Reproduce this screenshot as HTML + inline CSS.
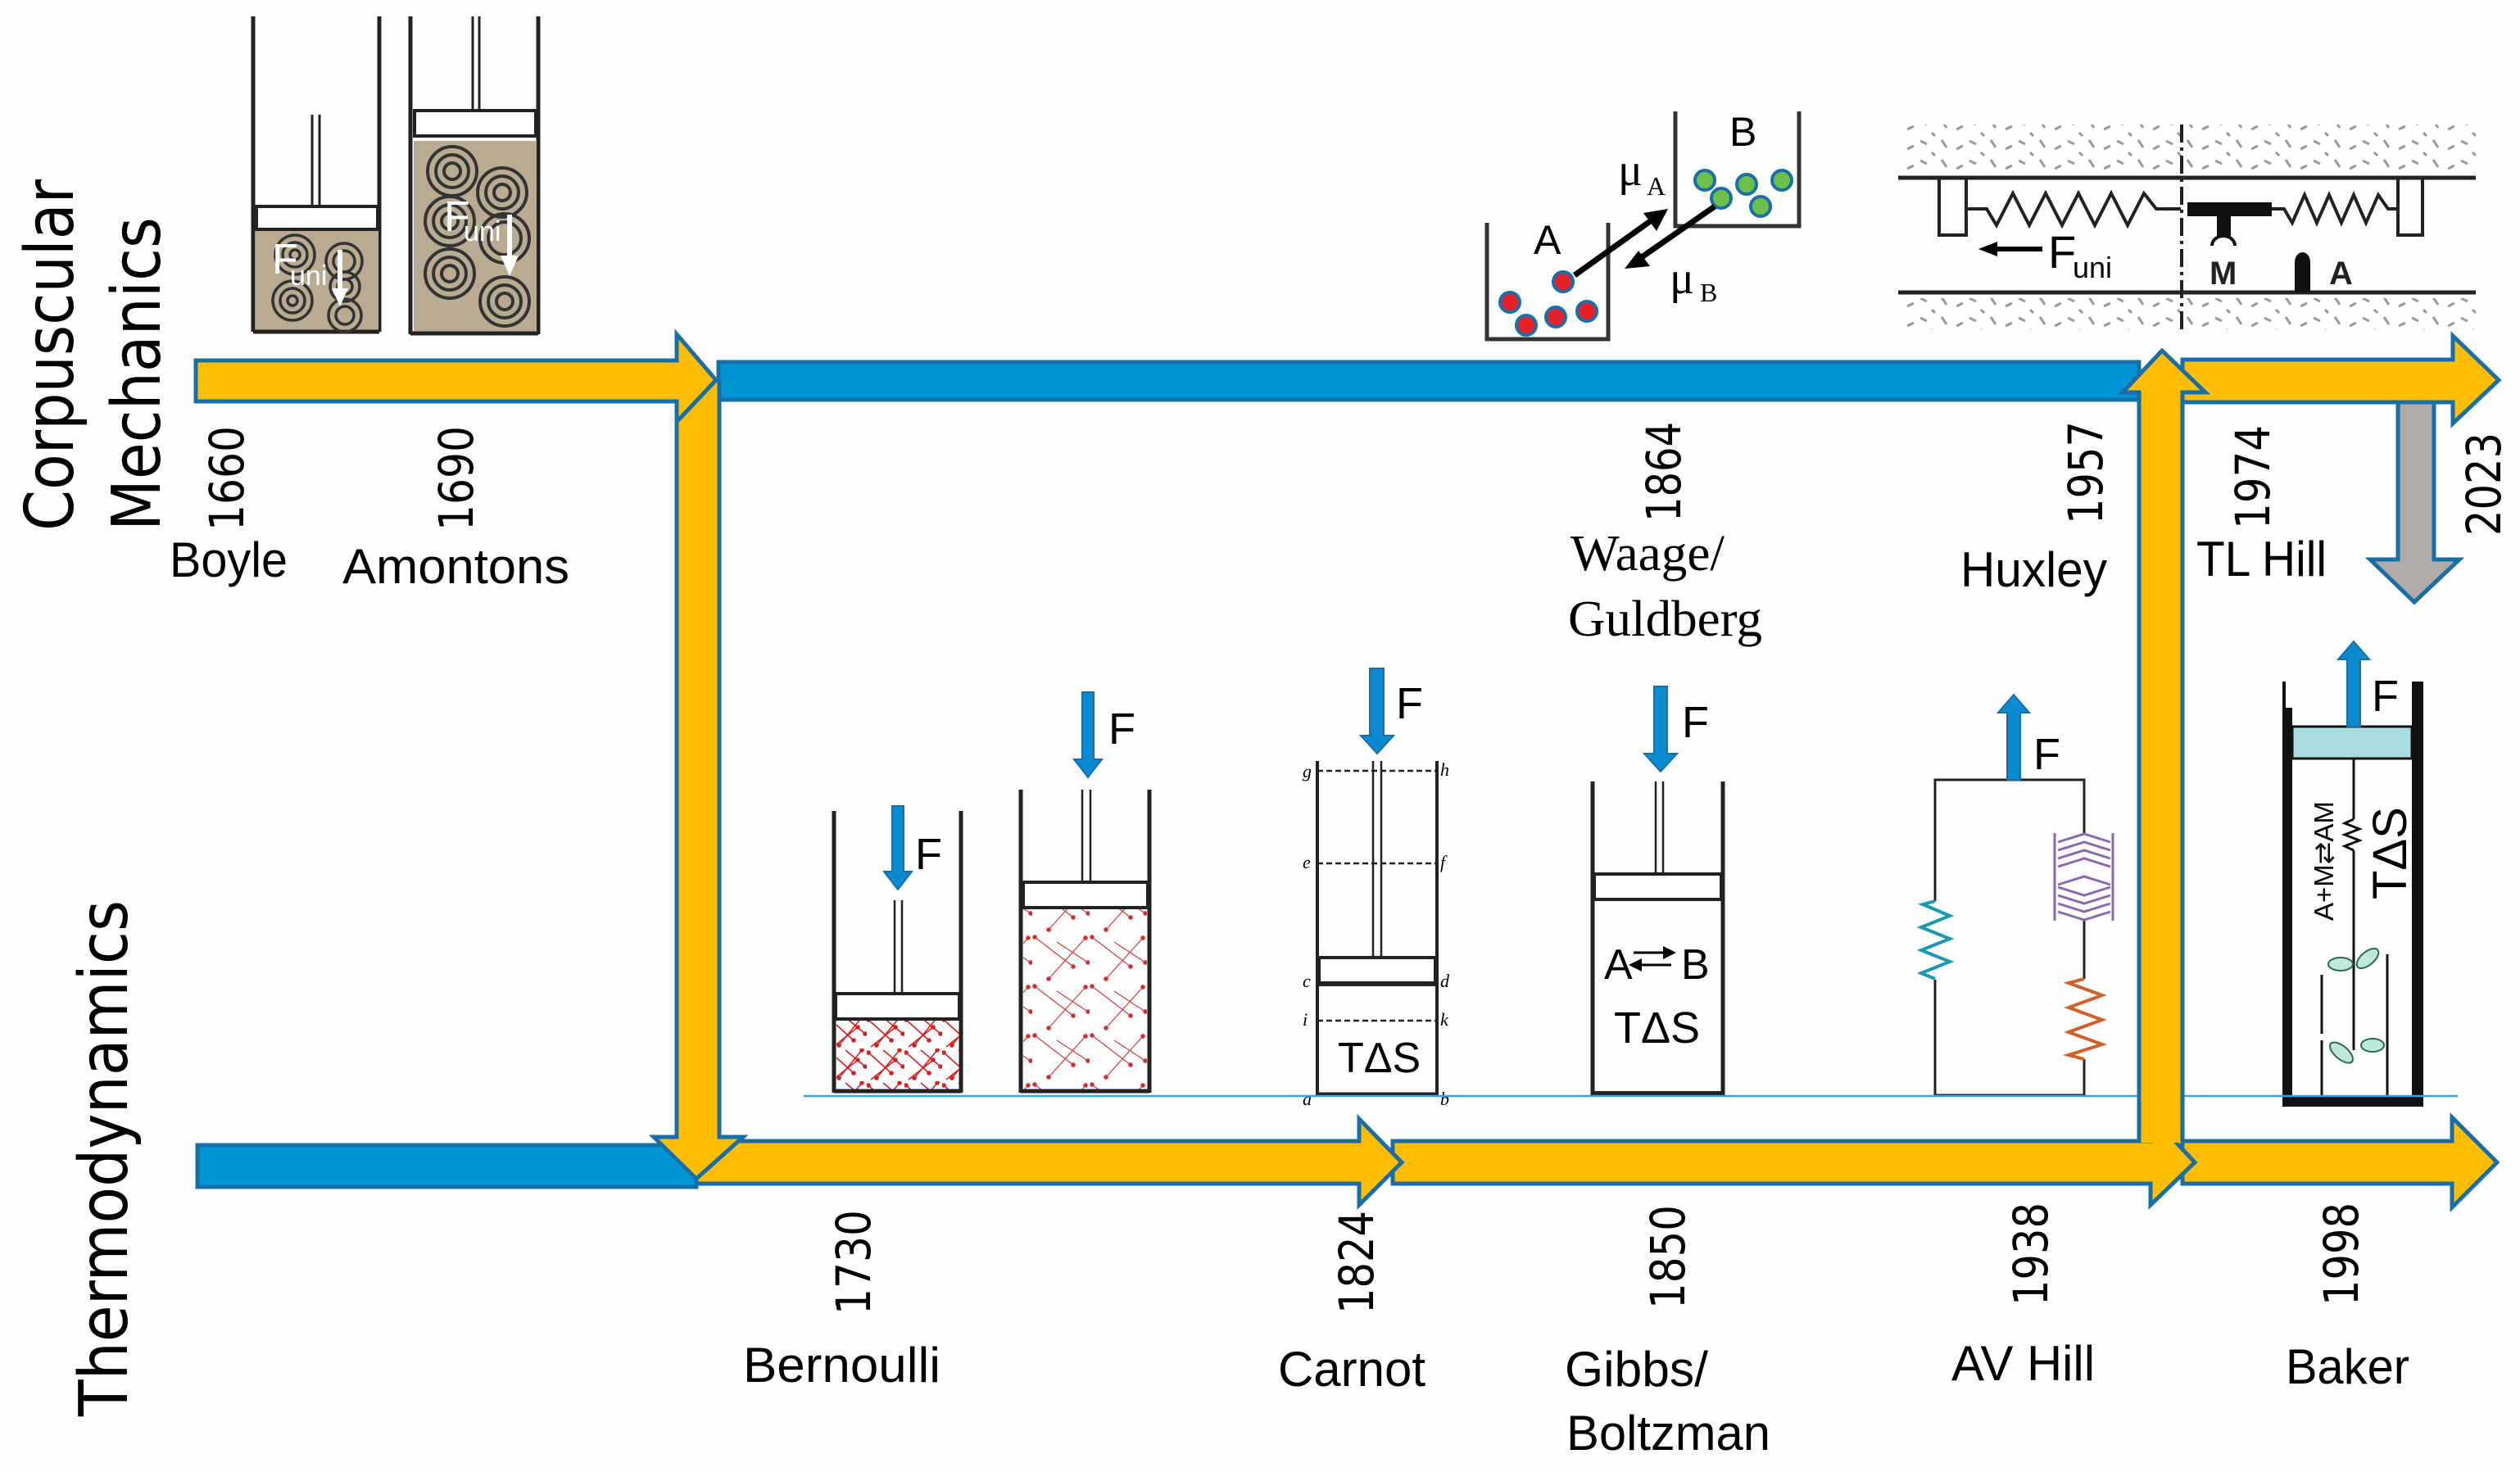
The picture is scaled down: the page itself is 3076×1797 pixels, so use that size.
<!DOCTYPE html>
<html><head><meta charset="utf-8"><style>
html,body{margin:0;padding:0;background:#fff;}
svg{display:block;}
.yr{font-family:"DejaVu Sans",sans-serif;font-size:58px;fill:#000;}
.nm{font-family:"Liberation Sans",sans-serif;font-size:60px;fill:#000;}
.ax{font-family:"DejaVu Sans",sans-serif;font-size:82px;fill:#000;}
.sf{font-family:"Liberation Serif",serif;fill:#000;}
.it{font-family:"Liberation Serif",serif;font-style:italic;font-size:22px;fill:#000;}
</style></head><body>
<svg width="3076" height="1797" viewBox="0 0 3076 1797" xmlns="http://www.w3.org/2000/svg">
<defs>
<pattern id="red" width="46" height="40" patternUnits="userSpaceOnUse">
<g stroke="#d42020" stroke-width="1.6" fill="#d42020">
<line x1="2" y1="5" x2="30" y2="30"/><line x1="40" y1="2" x2="12" y2="36"/><line x1="20" y1="2" x2="44" y2="22"/><line x1="5" y1="38" x2="35" y2="14"/>
<circle cx="2" cy="5" r="2"/><circle cx="30" cy="30" r="2"/><circle cx="40" cy="2" r="2"/><circle cx="12" cy="36" r="2"/><circle cx="44" cy="22" r="2"/><circle cx="35" cy="14" r="2"/>
</g></pattern>
<pattern id="red2" width="70" height="60" patternUnits="userSpaceOnUse">
<g stroke="#d44040" stroke-width="1.3" fill="#d42020">
<line x1="3" y1="4" x2="50" y2="40"/><line x1="65" y1="5" x2="20" y2="55"/><line x1="30" y1="10" x2="68" y2="35"/>
<circle cx="3" cy="4" r="2.2"/><circle cx="50" cy="40" r="2.2"/><circle cx="65" cy="5" r="2.2"/><circle cx="20" cy="55" r="2.2"/><circle cx="68" cy="35" r="2.2"/>
</g></pattern>
<pattern id="stip" width="60" height="24" patternUnits="userSpaceOnUse">
<g stroke="#9a9a9a" stroke-width="3"><line x1="4" y1="4" x2="12" y2="8"/><line x1="30" y1="3" x2="36" y2="12"/><line x1="48" y1="14" x2="56" y2="10"/><line x1="18" y1="18" x2="22" y2="22"/></g></pattern>
</defs>
<rect width="3076" height="1797" fill="#fefefe"/>

<!-- Boyle cylinder -->
<g stroke="#222" fill="none">
<line x1="309" y1="20" x2="309" y2="405" stroke-width="5"/><line x1="463" y1="20" x2="463" y2="405" stroke-width="5"/>
<rect x="312" y="280" width="150" height="125" fill="#b8ab92" stroke="none"/>
<line x1="309" y1="405" x2="463" y2="405" stroke-width="5"/>
<rect x="313" y="252" width="148" height="28" fill="#fff" stroke-width="4"/>
<line x1="381" y1="140" x2="381" y2="252" stroke-width="3"/><line x1="390" y1="140" x2="390" y2="252" stroke-width="3"/>
<g stroke="#333" stroke-width="3.5">
<circle cx="360" cy="311" r="24"/><circle cx="360" cy="311" r="15"/><circle cx="360" cy="311" r="6"/>
<circle cx="420" cy="319" r="22"/><circle cx="420" cy="319" r="13"/>
<circle cx="357" cy="367" r="24"/><circle cx="357" cy="367" r="15"/><circle cx="357" cy="367" r="6"/>
<circle cx="421" cy="385" r="20"/><circle cx="421" cy="385" r="11"/>
<circle cx="421" cy="350" r="18"/><circle cx="421" cy="350" r="9"/>
</g>
</g>
<text x="332" y="334" font-family="Liberation Sans" font-size="52" fill="#fff">F</text>
<text x="354" y="348" font-family="Liberation Sans" font-size="34" fill="#fff">uni</text>
<line x1="415" y1="305" x2="415" y2="355" stroke="#fff" stroke-width="6"/><polygon points="405,352 425,352 415,374" fill="#fff"/>

<!-- Amontons cylinder -->
<g stroke="#222" fill="none">
<line x1="501" y1="20" x2="501" y2="408" stroke-width="5"/><line x1="657" y1="20" x2="657" y2="408" stroke-width="5"/>
<rect x="505" y="172" width="150" height="233" fill="#b8ab92" stroke="none"/>
<line x1="501" y1="407" x2="657" y2="407" stroke-width="5"/>
<rect x="506" y="135" width="148" height="31" fill="#fff" stroke-width="4"/>
<line x1="577" y1="20" x2="577" y2="135" stroke-width="3"/><line x1="585" y1="20" x2="585" y2="135" stroke-width="3"/>
<g stroke="#333" stroke-width="4">
<circle cx="552" cy="209" r="30"/><circle cx="552" cy="209" r="20"/><circle cx="552" cy="209" r="10"/>
<circle cx="613" cy="235" r="30"/><circle cx="613" cy="235" r="20"/><circle cx="613" cy="235" r="10"/>
<circle cx="549" cy="270" r="30"/><circle cx="549" cy="270" r="20"/><circle cx="549" cy="270" r="10"/>
<circle cx="616" cy="291" r="30"/><circle cx="616" cy="291" r="20"/>
<circle cx="549" cy="334" r="30"/><circle cx="549" cy="334" r="20"/><circle cx="549" cy="334" r="10"/>
<circle cx="616" cy="368" r="30"/><circle cx="616" cy="368" r="20"/><circle cx="616" cy="368" r="10"/>
</g>
</g>
<text x="542" y="282" font-family="Liberation Sans" font-size="52" fill="#fff">F</text>
<text x="566" y="294" font-family="Liberation Sans" font-size="34" fill="#fff">uni</text>
<line x1="622" y1="262" x2="622" y2="315" stroke="#fff" stroke-width="6"/><polygon points="611,312 633,312 622,337" fill="#fff"/>

<!-- Waage diagram -->
<g stroke="#333" stroke-width="5" fill="none">
<polyline points="1815,272 1815,414 1963,414 1963,272"/>
<polyline points="2045,136 2045,276 2196,276 2196,136"/>
</g>
<text x="1872" y="310" font-family="Liberation Sans" font-size="50" fill="#000">A</text>
<text x="2111" y="178" font-family="Liberation Sans" font-size="50" fill="#000">B</text>
<g stroke="#1a6ea8" stroke-width="4" fill="#e8202a">
<ellipse cx="1908" cy="344" rx="12" ry="12"/><ellipse cx="1843" cy="369" rx="12" ry="12"/><ellipse cx="1863" cy="397" rx="12" ry="12"/><ellipse cx="1899" cy="387" rx="12" ry="12"/><ellipse cx="1937" cy="380" rx="12" ry="12"/>
</g>
<g stroke="#1a6ea8" stroke-width="4" fill="#6cc04a">
<ellipse cx="2081" cy="220" rx="12" ry="12"/><ellipse cx="2101" cy="242" rx="12" ry="12"/><ellipse cx="2132" cy="225" rx="12" ry="12"/><ellipse cx="2149" cy="252" rx="12" ry="12"/><ellipse cx="2175" cy="220" rx="12" ry="12"/>
</g>
<line x1="1922" y1="336" x2="2020" y2="266" stroke="#000" stroke-width="7"/><polygon points="2036,255 2006,260 2022,282" fill="#000"/>
<line x1="2093" y1="252" x2="1998" y2="318" stroke="#000" stroke-width="7"/><polygon points="1983,328 2000,306 2014,325" fill="#000"/>
<text x="1975" y="226" class="sf" font-size="56">μ</text><text x="2010" y="238" class="sf" font-size="32">A</text>
<text x="2038" y="358" class="sf" font-size="56">μ</text><text x="2075" y="368" class="sf" font-size="32">B</text>

<!-- Huxley sarcomere -->
<rect x="2317" y="152" width="705" height="56" fill="url(#stip)"/>
<rect x="2317" y="364" width="705" height="38" fill="url(#stip)"/>
<g stroke="#222" fill="none">
<line x1="2317" y1="217" x2="3022" y2="217" stroke-width="5"/>
<line x1="2317" y1="357" x2="3022" y2="357" stroke-width="5"/>
<rect x="2367" y="217" width="33" height="70" stroke-width="4"/>
<rect x="2927" y="217" width="30" height="70" stroke-width="4"/>
<polyline points="2400,255 2425,255 2437,275 2457,236 2477,275 2497,236 2517,275 2537,236 2557,275 2577,236 2597,275 2617,236 2632,255 2662,255" stroke-width="4"/>
<polyline points="2773,255 2788,255 2798,272 2813,238 2828,272 2843,238 2858,272 2873,238 2888,272 2903,238 2915,255 2927,255" stroke-width="4"/>
<line x1="2663" y1="152" x2="2663" y2="402" stroke-width="4" stroke-dasharray="22,6,4,6"/>
</g>
<rect x="2670" y="247" width="103" height="17" fill="#111"/>
<rect x="2706" y="262" width="17" height="28" fill="#111"/>
<path d="M2700,300 a14,12 0 0 1 28,0" stroke="#111" stroke-width="4" fill="none"/>
<path d="M2801,357 V320 a9.5,12 0 0 1 19,0 V357Z" fill="#111"/>
<text x="2697" y="347" font-family="Liberation Sans" font-weight="bold" font-size="40" fill="#222">M</text>
<text x="2843" y="347" font-family="Liberation Sans" font-weight="bold" font-size="40" fill="#222">A</text>
<line x1="2430" y1="304" x2="2493" y2="304" stroke="#000" stroke-width="6"/><polygon points="2415,304 2438,295 2438,313" fill="#000"/>
<text x="2500" y="327" font-family="Liberation Sans" font-size="56" fill="#000">F</text>
<text x="2530" y="339" font-family="Liberation Sans" font-size="36" fill="#000">uni</text>

<!-- Bernoulli cyl1 -->
<g stroke="#222" fill="none">
<line x1="1018" y1="990" x2="1018" y2="1334" stroke-width="5"/><line x1="1173" y1="990" x2="1173" y2="1334" stroke-width="5"/>
<rect x="1021" y="1245" width="150" height="86" fill="url(#red)" stroke="none"/>
<line x1="1018" y1="1332" x2="1173" y2="1332" stroke-width="5"/>
<rect x="1020" y="1213" width="151" height="31" fill="#fff" stroke-width="4"/>
<line x1="1092" y1="1099" x2="1092" y2="1213" stroke-width="2.5"/><line x1="1101" y1="1099" x2="1101" y2="1213" stroke-width="2.5"/>
</g>
<!-- Bernoulli cyl2 -->
<g stroke="#222" fill="none">
<line x1="1246" y1="964" x2="1246" y2="1334" stroke-width="5"/><line x1="1403" y1="964" x2="1403" y2="1334" stroke-width="5"/>
<rect x="1249" y="1108" width="152" height="223" fill="url(#red2)" stroke="none"/>
<line x1="1246" y1="1332" x2="1403" y2="1332" stroke-width="5"/>
<rect x="1249" y="1077" width="152" height="31" fill="#fff" stroke-width="4"/>
<line x1="1321" y1="964" x2="1321" y2="1077" stroke-width="2.5"/><line x1="1331" y1="964" x2="1331" y2="1077" stroke-width="2.5"/>
</g>
<!-- Carnot -->
<g stroke="#222" fill="none">
<line x1="1608" y1="929" x2="1608" y2="1337" stroke-width="4"/><line x1="1754" y1="929" x2="1754" y2="1337" stroke-width="4"/>
<line x1="1608" y1="1336" x2="1754" y2="1336" stroke-width="5"/>
<rect x="1610" y="1169" width="142" height="31" fill="#fff" stroke-width="4"/>
<line x1="1610" y1="1201" x2="1752" y2="1201" stroke-width="6"/>
<line x1="1676" y1="929" x2="1676" y2="1169" stroke-width="2.5"/><line x1="1686" y1="929" x2="1686" y2="1169" stroke-width="2.5"/>
<g stroke-dasharray="7,4" stroke-width="2.5"><line x1="1608" y1="941" x2="1754" y2="941"/><line x1="1608" y1="1054" x2="1754" y2="1054"/><line x1="1608" y1="1246" x2="1754" y2="1246"/></g>
</g>
<text x="1590" y="949" class="it">g</text><text x="1758" y="947" class="it">h</text>
<text x="1590" y="1060" class="it">e</text><text x="1758" y="1060" class="it">f</text>
<text x="1590" y="1205" class="it">c</text><text x="1758" y="1205" class="it">d</text>
<text x="1590" y="1252" class="it">i</text><text x="1758" y="1252" class="it">k</text>
<text x="1590" y="1349" class="it">a</text><text x="1758" y="1349" class="it">b</text>
<text x="1633" y="1309" font-family="Liberation Sans" font-size="52" fill="#000">TΔS</text>
<!-- Gibbs -->
<g stroke="#222" fill="none">
<line x1="1944" y1="954" x2="1944" y2="1337" stroke-width="5"/><line x1="2103" y1="954" x2="2103" y2="1337" stroke-width="5"/>
<line x1="1944" y1="1335" x2="2103" y2="1335" stroke-width="6"/>
<rect x="1946" y="1067" width="155" height="31" fill="#fff" stroke-width="4"/>
<line x1="2021" y1="954" x2="2021" y2="1067" stroke-width="2.5"/><line x1="2030" y1="954" x2="2030" y2="1067" stroke-width="2.5"/>
</g>
<text x="1958" y="1195" font-family="Liberation Sans" font-size="52" fill="#000">A</text>
<text x="2052" y="1195" font-family="Liberation Sans" font-size="52" fill="#000">B</text>
<line x1="1994" y1="1163" x2="2034" y2="1163" stroke="#000" stroke-width="3"/><polygon points="2046,1163 2030,1155 2030,1171" fill="#000"/>
<line x1="2000" y1="1178" x2="2040" y2="1178" stroke="#000" stroke-width="3"/><polygon points="1988,1178 2004,1170 2004,1186" fill="#000"/>
<text x="1970" y="1273" font-family="Liberation Sans" font-size="54" fill="#000">TΔS</text>
<!-- AV Hill -->
<g fill="none" stroke-width="3">
<rect x="2362" y="952" width="182" height="385" stroke="#222"/>
<rect x="2340" y="1100" width="44" height="96" fill="#fff" stroke="none"/>
<polyline points="2362,1100 2347,1104 2380,1118 2345,1132 2380,1146 2345,1160 2380,1174 2345,1188 2362,1195" stroke="#1a9ab0" stroke-width="4"/>
<rect x="2520" y="1195" width="50" height="98" fill="#fff" stroke="none"/>
<polyline points="2544,1195 2525,1200 2566,1215 2525,1230 2566,1245 2525,1260 2566,1275 2525,1288 2544,1293" stroke="#d0602a" stroke-width="4"/>
<rect x="2510" y="1018" width="68" height="106" fill="#fff" stroke="none"/>
<g stroke="#8a68b0" stroke-width="3">
<line x1="2508" y1="1017" x2="2508" y2="1124"/><line x1="2579" y1="1017" x2="2579" y2="1124"/>
<polyline points="2512,1028 2544,1018 2576,1028"/><polyline points="2512,1038 2544,1028 2576,1038"/><polyline points="2512,1048 2544,1038 2576,1048"/><polyline points="2512,1058 2544,1048 2576,1058"/>
<polyline points="2512,1080 2544,1070 2576,1080"/>
<polyline points="2512,1083 2544,1093 2576,1083"/><polyline points="2512,1093 2544,1103 2576,1093"/><polyline points="2512,1103 2544,1113 2576,1103"/><polyline points="2512,1113 2544,1123 2576,1113"/>
</g>
</g>
<!-- Baker -->
<rect x="2786" y="832" width="4" height="32" fill="#111"/>
<rect x="2786" y="864" width="12" height="487" fill="#111"/>
<rect x="2944" y="832" width="14" height="519" fill="#111"/>
<rect x="2786" y="1339" width="172" height="12" fill="#111"/>
<rect x="2798" y="887" width="146" height="39" fill="#a9dde0" stroke="#111" stroke-width="3"/>
<g stroke="#111" stroke-width="3" fill="none">
<line x1="2873" y1="926" x2="2873" y2="1000"/>
<polyline points="2873,1000 2862,1005 2880,1012 2862,1019 2880,1026 2862,1033 2873,1038"/>
<line x1="2873" y1="1038" x2="2873" y2="1282"/>
<line x1="2834" y1="1270" x2="2834" y2="1340"/><line x1="2834" y1="1190" x2="2834" y2="1262"/>
<line x1="2914" y1="1165" x2="2914" y2="1340"/>
</g>
<g fill="#bfe7da" stroke="#2a6a50" stroke-width="2">
<ellipse cx="2857" cy="1177" rx="15" ry="8"/><ellipse cx="2890" cy="1170" rx="16" ry="8" transform="rotate(-40 2890 1170)"/>
<ellipse cx="2858" cy="1285" rx="17" ry="8" transform="rotate(40 2858 1285)"/><ellipse cx="2896" cy="1276" rx="14" ry="8"/>
</g>
<text transform="translate(2848,1124) rotate(-90)" font-family="Liberation Sans" font-size="33" fill="#000">A+M⇄AM</text>
<text transform="translate(2937,1098) rotate(-90)" font-family="Liberation Sans" font-size="58" fill="#000">TΔS</text>

<!-- baseline -->
<line x1="981" y1="1338" x2="3000" y2="1338" stroke="#3aa0e0" stroke-width="2.5"/>

<!-- F arrows -->
<g fill="#0a8bd0" stroke="#1a6ea8" stroke-width="2">
<path d="M1089,984 h14 v80 h10 l-17,22 l-17,-22 h10z"/>
<path d="M1321,845 h14 v82 h10 l-17,22 l-17,-22 h10z"/>
<path d="M1672,816 h17 v82 h12 l-20,22 l-20,-22 h11z"/>
<path d="M2019,838 h16 v82 h12 l-20,22 l-20,-22 h12z"/>
<path d="M2450,952 h16 v-82 h11 l-19,-22 l-19,22 h11z"/>
<path d="M2865,887 h16 v-82 h11 l-19,-22 l-19,22 h11z"/>
</g>
<g font-family="Liberation Sans" font-size="54" fill="#000">
<text x="1117" y="1061">F</text><text x="1353" y="908">F</text><text x="1704" y="877">F</text>
<text x="2053" y="900">F</text><text x="2482" y="939">F</text><text x="2895" y="868">F</text>
</g>

<!-- Flow bars -->
<g stroke="#1a6ea8" stroke-width="5" stroke-linejoin="miter">
<rect x="241" y="1398" width="609" height="51" fill="#0096d6"/>
<rect x="877" y="442" width="1734" height="46" fill="#0096d6"/>
<!-- bottom arrows (reverse order) -->
<path d="M2664,1393 H2993 V1364 L3048,1419 L2993,1474 V1445 H2664Z" fill="#ffbf00"/>
<path d="M1700,1393 H2625 V1361 L2679,1419 L2625,1471 V1445 H1700Z" fill="#ffbf00"/>
<path d="M850,1393 H1659 V1366 L1711,1419 L1659,1471 V1445 H850Z" fill="#ffbf00"/>
<!-- left vertical down -->
<path d="M826,464 V1388 H798 L850,1439 L907,1388 H878 V464Z" fill="#ffbf00"/>
<!-- top left arrow -->
<path d="M239,440 H826 V408 L874,464 L826,515 V490 H239Z" fill="#ffbf00"/>
<!-- top right arrow -->
<path d="M2664,439 H2994 V410 L3050,464 L2994,517 V491 H2664Z" fill="#ffbf00"/>
<!-- Huxley vertical up -->
<path d="M2611,1395 V479 H2591 L2639,428 L2692,479 H2664 V1395" fill="#ffbf00"/>
<!-- gray down -->
<path d="M2927,491 V683 H2893 L2947,735 L3002,683 H2971 V491Z" fill="#b0aba8"/>
</g>

<!-- axis labels -->
<text transform="translate(89,648) rotate(-90)" class="ax" textLength="429" lengthAdjust="spacingAndGlyphs">Corpuscular</text>
<text transform="translate(195,648) rotate(-90)" class="ax" textLength="383" lengthAdjust="spacingAndGlyphs">Mechanics</text>
<text transform="translate(155,1729) rotate(-90)" class="ax" textLength="630" lengthAdjust="spacingAndGlyphs">Thermodynamics</text>

<!-- years -->
<g class="yr">
<text transform="translate(297,648) rotate(-90)" textLength="128" lengthAdjust="spacingAndGlyphs">1660</text>
<text transform="translate(577,648) rotate(-90)" textLength="128" lengthAdjust="spacingAndGlyphs">1690</text>
<text transform="translate(2051,637) rotate(-90)" textLength="122" lengthAdjust="spacingAndGlyphs">1864</text>
<text transform="translate(2566,640) rotate(-90)" textLength="126" lengthAdjust="spacingAndGlyphs">1957</text>
<text transform="translate(2770,646) rotate(-90)" textLength="127" lengthAdjust="spacingAndGlyphs">1974</text>
<text transform="translate(3052,654) rotate(-90)" textLength="126" lengthAdjust="spacingAndGlyphs">2023</text>
<text transform="translate(1062,1605) rotate(-90)" textLength="128" lengthAdjust="spacingAndGlyphs">1730</text>
<text transform="translate(1676,1604) rotate(-90)" textLength="126" lengthAdjust="spacingAndGlyphs">1824</text>
<text transform="translate(2056,1598) rotate(-90)" textLength="127" lengthAdjust="spacingAndGlyphs">1850</text>
<text transform="translate(2499,1594) rotate(-90)" textLength="126" lengthAdjust="spacingAndGlyphs">1938</text>
<text transform="translate(2878,1594) rotate(-90)" textLength="126" lengthAdjust="spacingAndGlyphs">1998</text>
</g>

<!-- names -->
<g class="nm">
<text x="207" y="704" textLength="144" lengthAdjust="spacingAndGlyphs">Boyle</text>
<text x="418" y="712" textLength="277" lengthAdjust="spacingAndGlyphs">Amontons</text>
<text x="2393" y="716" textLength="179" lengthAdjust="spacingAndGlyphs">Huxley</text>
<text x="2681" y="703" textLength="159" lengthAdjust="spacingAndGlyphs">TL Hill</text>
<text x="907" y="1687" textLength="241" lengthAdjust="spacingAndGlyphs">Bernoulli</text>
<text x="1560" y="1692" textLength="180" lengthAdjust="spacingAndGlyphs">Carnot</text>
<text x="1910" y="1692" textLength="175" lengthAdjust="spacingAndGlyphs">Gibbs/</text>
<text x="1912" y="1770" textLength="249" lengthAdjust="spacingAndGlyphs">Boltzman</text>
<text x="2382" y="1685" textLength="175" lengthAdjust="spacingAndGlyphs">AV Hill</text>
<text x="2790" y="1689" textLength="151" lengthAdjust="spacingAndGlyphs">Baker</text>
</g>
<text x="1917" y="696" class="sf" font-size="62" textLength="188" lengthAdjust="spacingAndGlyphs">Waage/</text>
<text x="1914" y="776" class="sf" font-size="62" textLength="237" lengthAdjust="spacingAndGlyphs">Guldberg</text>
</svg>
</body></html>
